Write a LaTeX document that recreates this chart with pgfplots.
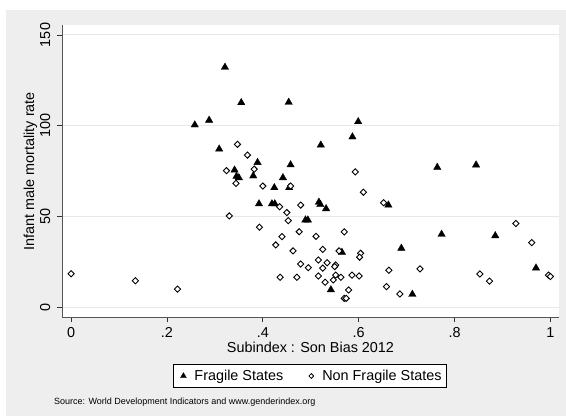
\documentclass[border=0pt]{standalone}
\usepackage{fontspec}
\setmainfont{Liberation Sans}
\usepackage{pgfplots}
\pgfplotsset{compat=1.18}
\definecolor{bggray}{RGB}{238,238,238}
\definecolor{gridgray}{RGB}{232,232,232}
\definecolor{axisgray}{RGB}{85,85,85}
\newcommand\fs{\fontsize{14.4bp}{17bp}\selectfont}
\begin{document}
\begin{tikzpicture}
\path[use as bounding box] (0,0) rectangle (566bp,416bp);
\fill[white] (0,0) rectangle (566bp,416bp);
\fill[bggray] (6bp,0) rectangle (566bp,406bp);
\begin{axis}[
  at={(62bp,98.7bp)}, anchor=south west,
  scale only axis, width=497bp, height=292bp,
  xmin=-0.019, xmax=1.018, ymin=-5.68, ymax=155.35,
  axis background/.style={fill=white},
  axis x line*=bottom, axis y line*=left,
  axis line style={draw=axisgray, line width=1bp},
  xtick={0,0.2,0.4,0.6,0.8,1}, xticklabels={0,.2,.4,.6,.8,1},
  ytick={0,50,100,150},
  minor tick num=0,
  tick align=outside, major tick length=5bp,
  tick style={draw=black!80, line width=0.8bp},
  ymajorgrids, major grid style={draw=gridgray, line width=1bp},
  ticklabel style={font=\fs, text=black},
  /pgf/number format/assume math mode=true,
  xticklabel style={yshift=-15.4bp, anchor=base, inner sep=0pt},
  yticklabel style={xshift=-7bp, rotate=90, anchor=base, inner sep=0pt},
  every axis x label/.style={at={(axis description cs:0.5,0)}, yshift=-34.8bp, anchor=base, font=\fs},
  xlabel={Subindex : Son Bias 2012},
  legend image code/.code={\path[draw=none,fill=none] (0bp,0bp) -- (16bp,0bp); \path[#1] plot coordinates {(5bp,0bp)};},
  legend style={at={(axis description cs:0.499,-0.201)}, anchor=center,
    draw=black, line width=1bp, fill=white, font=\fs,
    inner xsep=5bp, inner ysep=6bp,
    nodes={inner sep=0pt, anchor=west},
    /tikz/every even column/.append style={column sep=23bp}},
  legend columns=2,
]
\addplot[forget plot, only marks, mark=triangle*, mark size=4.3bp, mark options={fill=black, draw=black, line width=0.3bp}] coordinates {
(0.321,132.2) (0.355,112.7) (0.454,112.9) (0.258,100.4) (0.288,103.0)
(0.599,102.2) (0.587,93.8) (0.521,89.3) (0.309,87.1) (0.389,79.7)
(0.458,78.4) (0.341,75.5) (0.345,72.0) (0.350,71.3) (0.380,72.3)
(0.442,71.3) (0.424,65.8) (0.455,65.8) (0.392,56.9) (0.419,56.9)
(0.425,56.9) (0.517,57.8) (0.520,56.5) (0.532,54.2) (0.662,56.2)
(0.489,48.0) (0.494,48.0) (0.764,77.0) (0.845,78.3) (0.773,40.1)
(0.885,39.3) (0.689,32.4) (0.565,30.2) (0.542,9.5) (0.712,7.0)
(0.970,21.5)
};
\addplot[forget plot, only marks, mark=square*, mark size=2.2bp, mark options={fill=white, draw=black, line width=0.9bp, rotate=45}] coordinates {
(0.000,18.3) (0.134,14.5) (0.222,9.9) (0.347,89.7) (0.368,83.8)
(0.324,75.2) (0.382,76.0) (0.344,68.2) (0.400,66.7) (0.458,66.7)
(0.330,50.2) (0.393,44.0) (0.435,55.3) (0.479,56.2) (0.450,52.1)
(0.453,47.6) (0.476,41.5) (0.440,38.8) (0.427,34.2) (0.463,30.9)
(0.511,39.0) (0.570,41.4) (0.525,31.8) (0.559,30.9) (0.604,29.6)
(0.602,27.5) (0.593,74.5) (0.610,63.3) (0.652,57.5) (0.516,25.9)
(0.534,24.4) (0.479,23.7) (0.495,21.7) (0.525,21.4) (0.552,23.2)
(0.550,22.3) (0.436,16.4) (0.471,16.4) (0.516,17.1) (0.547,14.9)
(0.552,17.6) (0.563,16.4) (0.530,13.6) (0.586,17.6) (0.601,17.1)
(0.579,9.4) (0.570,4.8) (0.574,4.8) (0.663,20.3) (0.728,21.0)
(0.658,11.2) (0.686,7.2) (0.853,18.2) (0.873,14.3) (0.928,46.0)
(0.961,35.5) (0.996,17.6) (1.000,16.8)
};
\addlegendimage{only marks, mark=triangle*, mark size=3.4bp, mark options={fill=black, draw=black, line width=0.3bp}}
\addlegendentry{Fragile States}
\addlegendimage{only marks, mark=square*, mark size=1.7bp, mark options={fill=white, draw=black, line width=0.8bp, rotate=45}}
\addlegendentry{Non Fragile States\hspace{5bp}}
\end{axis}
\node[rotate=90, anchor=base, inner sep=0pt, font=\fs] at (34bp,244.7bp) {Infant male mortality rate};
\node[anchor=base west, inner sep=0pt, font=\fontsize{9bp}{11bp}\selectfont] at (54bp,12bp) {Source: World Development Indicators and www.genderindex.org};
\end{tikzpicture}
\end{document}
